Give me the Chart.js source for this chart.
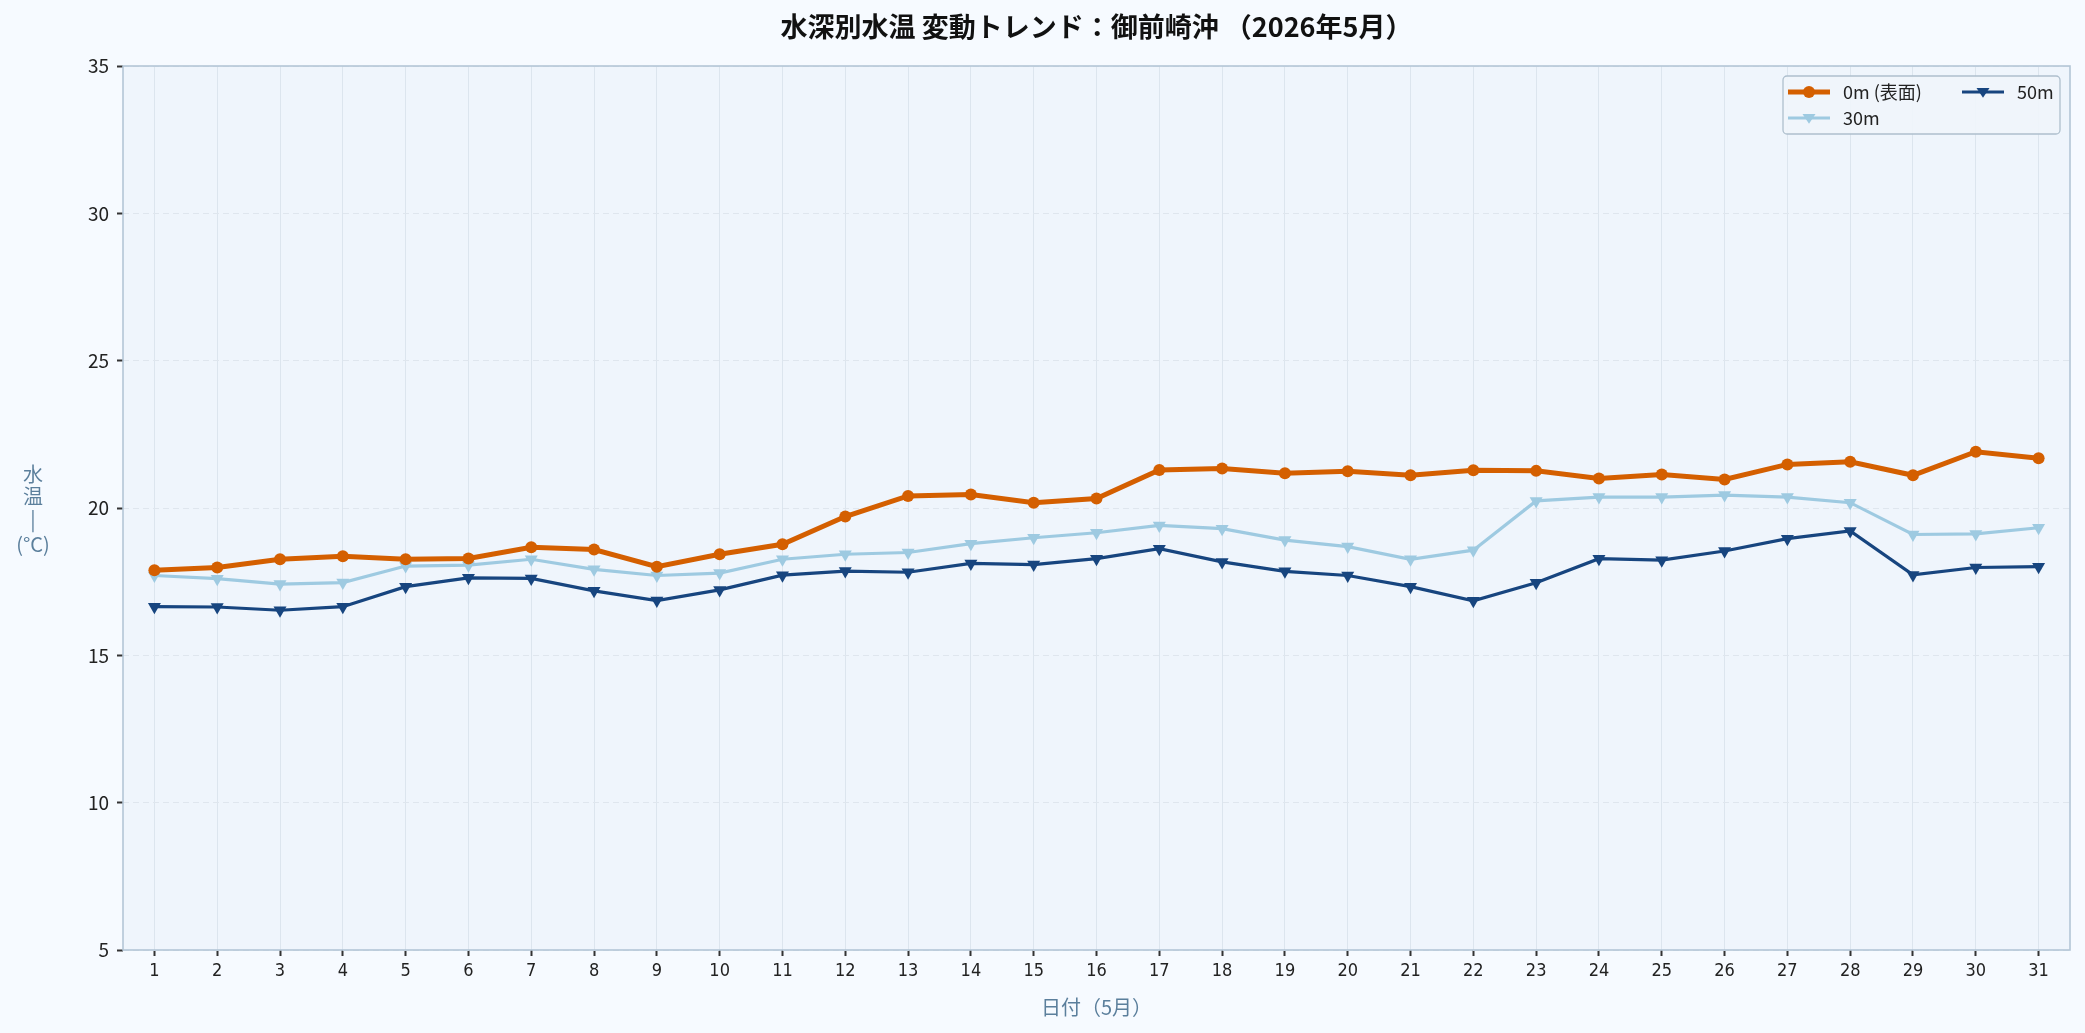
<!DOCTYPE html>
<html><head><meta charset="utf-8">
<script src="https://cdn.jsdelivr.net/npm/chart.js@4"></script>
<style>html,body{margin:0;padding:0;background:#f6faff;}#c{display:block;}</style>
</head><body>
<div style="width:2085px;height:1033px;position:relative"><canvas id="c" width="2085" height="1033"></canvas></div>
<script>
const titleText = '水深別水温 変動トレンド：御前崎沖 （2026年5月）';
const xTitle = '日付（5月）';
const yTitleLines = ['水','温','|','(°C)'];
const days = ['1','2','3','4','5','6','7','8','9','10','11','12','13','14','15','16','17','18','19','20','21','22','23','24','25','26','27','28','29','30','31'];
const seriesNames = ['0m (表面)','30m','50m'];
const t0 = [17.89,17.98,18.26,18.36,18.26,18.29,18.67,18.59,18.01,18.43,18.77,19.71,20.41,20.46,20.18,20.32,21.29,21.34,21.18,21.25,21.11,21.28,21.26,21.00,21.14,20.97,21.48,21.57,21.11,21.91,21.69];
const t30 = [17.71,17.60,17.42,17.47,18.03,18.06,18.26,17.92,17.71,17.79,18.26,18.43,18.49,18.79,18.99,19.16,19.41,19.30,18.91,18.69,18.26,18.57,20.24,20.37,20.37,20.44,20.37,20.18,19.10,19.12,19.33];
const t50 = [16.65,16.64,16.53,16.65,17.33,17.63,17.61,17.19,16.86,17.22,17.72,17.86,17.82,18.12,18.08,18.28,18.62,18.17,17.85,17.71,17.33,16.85,17.46,18.28,18.23,18.54,18.96,19.22,17.73,17.98,18.01];
const yTicks = [5,10,15,20,25,30,35];

const FONT = '"Noto Sans CJK JP","Noto Sans",sans-serif';
const NARROW = '"Liberation Sans Narrow","DejaVu Sans Condensed",sans-serif';
const colors = ['#d45f00','#9ecae1','#17457f'];

const decor = {
  id:'decor',
  beforeDraw(chart){
    const {ctx, chartArea:a} = chart;
    ctx.save();
    ctx.fillStyle='#f6faff';
    ctx.fillRect(0,0,chart.width,chart.height);
    ctx.fillStyle='#eff5fc';
    ctx.fillRect(a.left,a.top,a.right-a.left,a.bottom-a.top);
    ctx.restore();
  },
  afterDatasetsDraw(chart){
    const {ctx, chartArea:a} = chart;
    ctx.save();
    ctx.strokeStyle='#b3c6d6';
    ctx.lineWidth=1.6;
    ctx.strokeRect(a.left,a.top,a.right-a.left,a.bottom-a.top);
    ctx.fillStyle='#111';
    ctx.font='bold 27px '+FONT;
    ctx.textAlign='center';ctx.textBaseline='middle';
    ctx.fillText(titleText,(a.left+a.right)/2,27);
    ctx.fillStyle='#5b7f9c';
    ctx.font='20px '+FONT;
    ctx.fillText(xTitle,(a.left+a.right)/2,1007);
    const ys=[474,496,519,544];
    yTitleLines.forEach((t,i)=>ctx.fillText(t,33,ys[i]));
    const lx=1783, ly=76, lw=277, lh=58;
    ctx.fillStyle='rgba(240,245,251,0.9)';
    ctx.strokeStyle='#aebfcd';ctx.lineWidth=1.3;
    ctx.beginPath();ctx.roundRect(lx,ly,lw,lh,4);ctx.fill();ctx.stroke();
    const pos=[[1788,92],[1788,118],[1962,92]];
    chart.data.datasets.forEach((ds,i)=>{
      const [x,y]=pos[i];
      ctx.strokeStyle=ds.borderColor;ctx.lineWidth=ds.borderWidth;
      ctx.beginPath();ctx.moveTo(x,y);ctx.lineTo(x+42,y);ctx.stroke();
      ctx.fillStyle=ds.borderColor;
      ctx.beginPath();
      if(ds.pointStyle==='circle'){ctx.arc(x+21,y,6,0,Math.PI*2);}
      else{const r=6.5;ctx.moveTo(x+21-r,y-r*0.6);ctx.lineTo(x+21+r,y-r*0.6);ctx.lineTo(x+21,y+r*0.9);ctx.closePath();}
      ctx.fill();
      ctx.fillStyle='#222';ctx.font='18px '+FONT;ctx.textAlign='left';
      ctx.fillText(ds.label,x+55,y);
    });
    ctx.restore();
  }
};

new Chart(document.getElementById('c'),{
  type:'line',
  data:{labels:days,datasets:[
    {label:seriesNames[0],data:t0,borderColor:colors[0],backgroundColor:colors[0],borderWidth:5,pointStyle:'circle',pointRadius:6,pointBorderWidth:0,tension:0},
    {label:seriesNames[1],data:t30,borderColor:colors[1],backgroundColor:colors[1],borderWidth:3.2,pointStyle:'triangle',pointRotation:180,pointRadius:7.5,pointBorderWidth:0,tension:0},
    {label:seriesNames[2],data:t50,borderColor:colors[2],backgroundColor:colors[2],borderWidth:3.2,pointStyle:'triangle',pointRotation:180,pointRadius:7.5,pointBorderWidth:0,tension:0}
  ]},
  options:{
    responsive:false,animation:false,
    layout:{padding:{top:66,right:15,left:0,bottom:0}},
    plugins:{legend:{display:false},title:{display:false},tooltip:{enabled:false}},
    scales:{
      x:{offset:true,
        afterFit(s){s.height=83;},
        grid:{color:'#dce5ee',lineWidth:1,tickLength:6,tickColor:'#333',tickWidth:2,drawTicks:true},
        border:{display:false},
        ticks:{color:'#222',font:{size:18,family:NARROW},padding:5,maxRotation:0,autoSkip:false}
      },
      y:{min:5,max:35,
        afterFit(s){s.width=123;},
        afterBuildTicks(s){s.ticks=yTicks.map(v=>({value:v}));},
        grid:{color:'#dfe6ee',lineWidth:1,tickLength:6,tickColor:'#333',tickWidth:2},
        border:{display:false,dash:[6,4]},
        ticks:{color:'#222',font:{size:19,family:FONT},padding:8}
      }
    }
  },
  plugins:[decor]
});
</script>
</body></html>
